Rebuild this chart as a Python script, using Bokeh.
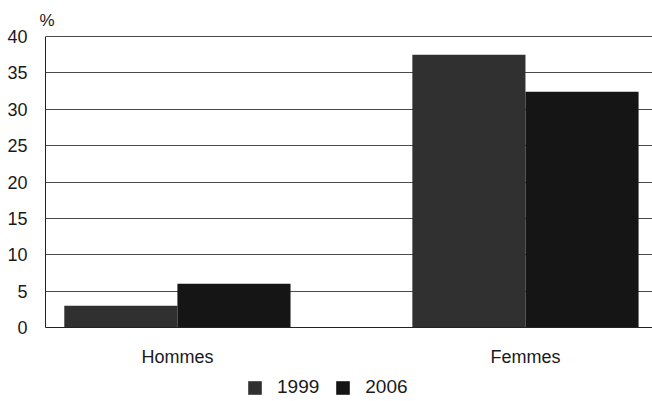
import numpy as np
from bokeh.plotting import figure
from bokeh.models import (Range1d, FixedTicker, Legend, LegendItem, Title)
from bokeh.embed import file_html
from bokeh.resources import INLINE

categories = ["Hommes", "Femmes"]
years = ["1999", "2006"]
values_1999 = [3.0, 37.5]
values_2006 = [6.0, 32.4]
y_ticks = [0, 5, 10, 15, 20, 25, 30, 35, 40]
y_unit = "%"

colors = ["#303030", "#151515"]
FONT = "Liberation Sans"

idx = np.arange(len(categories))
bw = 0.325

p = figure(width=652, height=401, frame_width=607, frame_height=366,
           output_backend="svg", toolbar_location=None,
           x_range=Range1d(-0.379, 1.365), y_range=Range1d(-10.18, 40.15),
           min_border_left=45, min_border_top=35, min_border_right=0,
           min_border_bottom=0)
p.outline_line_color = None
p.background_fill_color = "white"
p.border_fill_color = "white"

r1 = p.vbar(x=idx - bw / 2, top=values_1999, width=bw, fill_color=colors[0],
            line_color=None)
r2 = p.vbar(x=idx + bw / 2, top=values_2006, width=bw, fill_color=colors[1],
            line_color=None)

p.xgrid.grid_line_color = None
p.ygrid.grid_line_color = "#4a4a4a"
p.ygrid.grid_line_width = 1
p.yaxis.ticker = FixedTicker(ticks=y_ticks)
p.yaxis.bounds = (0, 40)
p.xaxis.ticker = FixedTicker(ticks=list(idx))
p.xaxis.major_label_overrides = {int(i): c for i, c in zip(idx, categories)}
p.xaxis.fixed_location = 0

for ax in (p.xaxis[0], p.yaxis[0]):
    ax.major_tick_line_color = None
    ax.minor_tick_line_color = None
    ax.axis_line_color = "#222222"
    ax.major_label_text_font = FONT
    ax.major_label_text_font_size = "18px"
    ax.major_label_text_color = "#1a1a1a"
p.yaxis.major_label_standoff = 12
p.xaxis.major_label_standoff = 14

p.add_layout(Title(text=y_unit, align="left", offset=-6, standoff=11,
                   text_font=FONT, text_font_size="17px",
                   text_font_style="normal", text_color="#1a1a1a"), "above")

legend = Legend(items=[LegendItem(label=years[0], renderers=[r1]),
                       LegendItem(label=years[1], renderers=[r2])],
                orientation="horizontal", location=(201, 3),
                padding=0, margin=0, spacing=15, label_standoff=14,
                glyph_width=17, glyph_height=17,
                label_text_font=FONT, label_text_font_size="19px",
                label_text_color="#1a1a1a",
                border_line_color=None, background_fill_alpha=0)
p.add_layout(legend)

open("out.html", "w").write(file_html(p, INLINE))
